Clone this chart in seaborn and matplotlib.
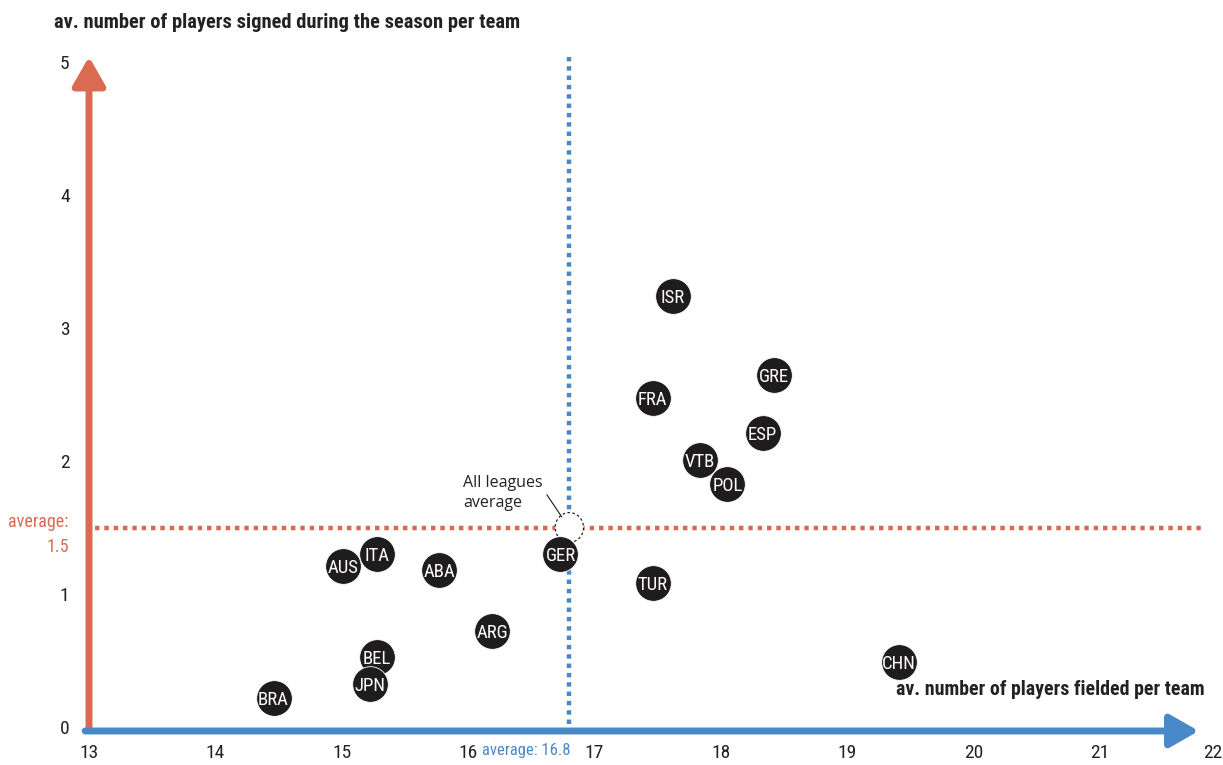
import matplotlib
matplotlib.use("Agg")
import matplotlib.pyplot as plt
import pandas as pd
import seaborn as sns
from matplotlib import font_manager
from matplotlib.patches import Circle
from matplotlib.transforms import ScaledTranslation

leagues = ["ISR", "GRE", "FRA", "ESP", "VTB", "POL", "GER", "TUR", "ITA",
           "AUS", "ABA", "ARG", "BEL", "JPN", "BRA", "CHN"]
fielded = [17.62, 18.42, 17.46, 18.33, 17.83, 18.05, 16.73, 17.46, 15.28,
           15.01, 15.77, 16.19, 15.28, 15.22, 14.46, 19.41]
signed = [3.24, 2.65, 2.47, 2.21, 2.01, 1.83, 1.30, 1.08, 1.30,
          1.21, 1.18, 0.72, 0.53, 0.32, 0.22, 0.49]
avg_fielded = 16.8
avg_signed = 1.5
x_ticks = [13, 14, 15, 16, 17, 18, 19, 20, 21, 22]
y_ticks = [0, 1, 2, 3, 4, 5]

ORANGE = "#DB6B50"
BLUE = "#4A89C8"
DARK = "#1E1C1C"

installed = {f.name for f in font_manager.fontManager.ttflist}
narrow = "Roboto"
for cand in ["Roboto Condensed", "Barlow Condensed", "Archivo Narrow",
             "PT Sans Narrow", "Liberation Sans Narrow"]:
    if cand in installed:
        narrow = cand
        break

sns.set_style("white")
plt.rcParams["font.family"] = [narrow, "DejaVu Sans"]

df = pd.DataFrame({"league": leagues, "fielded": fielded, "signed": signed})

fig = plt.figure(figsize=(12.23, 7.65), dpi=100)
ax = fig.add_axes([89 / 1223, 38 / 765, 1137.6 / 1223, 665 / 765])
ax.set_xlim(13, 22)
ax.set_ylim(0, 5)

# average guide lines
ax.plot([13.05, 21.82], [avg_signed, avg_signed], color=ORANGE, lw=3.2,
        linestyle=(0, (1, 1.1)), solid_capstyle="butt", clip_on=False, zorder=1)
ax.plot([avg_fielded, avg_fielded], [0.02, 5.04], color=BLUE, lw=3.2,
        linestyle=(0, (1, 1.1)), solid_capstyle="butt", clip_on=False, zorder=1)

# axis arrows
ax.annotate("", xy=(13.0, 5.04), xytext=(13.0, -0.02), xycoords="data",
            arrowprops=dict(arrowstyle="-|>,head_length=1.75,head_width=1.0",
                            color=ORANGE, lw=5, shrinkA=0, shrinkB=0),
            annotation_clip=False, zorder=3)
ax.annotate("", xy=(21.78, -0.03), xytext=(12.97, -0.03), xycoords="data",
            arrowprops=dict(arrowstyle="-|>,head_length=1.75,head_width=1.0",
                            color=BLUE, lw=5, shrinkA=0, shrinkB=0),
            annotation_clip=False, zorder=4)

# all leagues average marker
ax.add_patch(Circle((avg_fielded, avg_signed), 0.112, transform=ax.transData,
                    facecolor="white", edgecolor=DARK, lw=0.9, linestyle=(0, (2, 2)),
                    zorder=2))
ax.annotate("All leagues\naverage", xy=(avg_fielded - 0.06, avg_signed + 0.08),
            xytext=(15.96, 1.76), ha="left", va="center", fontsize=11.5,
            family=["Open Sans", "DejaVu Sans"], color="#222222", linespacing=1.3,
            arrowprops=dict(arrowstyle="-", color=DARK, lw=0.8,
                            relpos=(1.0, 0.62), shrinkA=1, shrinkB=0))

sns.scatterplot(data=df, x="fielded", y="signed", s=660, color=DARK,
                edgecolor="white", linewidth=0.6, ax=ax, zorder=5, legend=False)
for _, row in df.iterrows():
    ax.text(row["fielded"], row["signed"], row["league"], color="white",
            fontsize=13.5, ha="center", va="center_baseline", zorder=6)

sns.despine(ax=ax, left=True, bottom=True)
ax.set_xticks(x_ticks)
ax.set_yticks(y_ticks)
ax.tick_params(axis="x", length=3, width=0.8, color="#333333", pad=9,
               labelsize=14, labelcolor="#222222")
ax.tick_params(axis="y", length=3, width=0.8, color="#333333", pad=11,
               labelsize=14, labelcolor="#222222")
last = ax.get_xticklabels()[-1]
last.set_transform(last.get_transform() + ScaledTranslation(-14 / 100, 0, fig.dpi_scale_trans))
ax.set_xlabel("")
ax.set_ylabel("")

fig.text(54 / 1223, 1 - 22 / 765, "av. number of players signed during the season per team",
         fontsize=14.8, fontweight="bold", color="#222222", ha="left", va="center")
ax.text(21.83, 0.28, "av. number of players fielded per team", fontsize=14.3,
        fontweight="bold", color="#222222", ha="right", va="center")
ax.text(12.84, avg_signed - 0.05, "average:\n1.5", color=ORANGE, fontsize=13,
        ha="right", va="center", linespacing=1.5)
ax.text(avg_fielded + 0.01, -0.18, "average: 16.8", color=BLUE, fontsize=12,
        ha="right", va="center")

fig.savefig("out.png", dpi=100)
